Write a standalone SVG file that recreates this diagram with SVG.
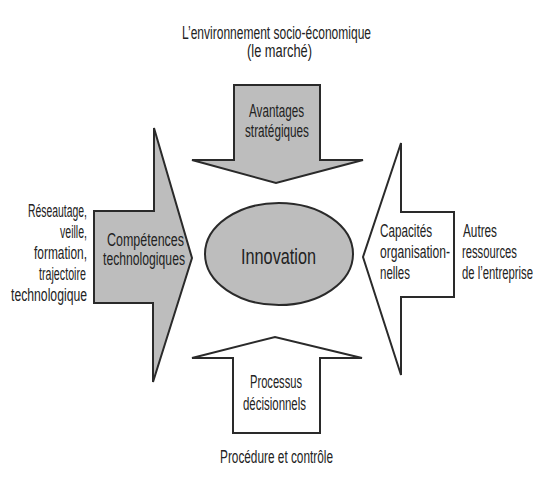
<svg xmlns="http://www.w3.org/2000/svg" width="536" height="486" viewBox="0 0 536 486">
<style>
.shape{stroke:#2a2a2a;stroke-width:2;stroke-linejoin:miter}
.gray{fill:#bdbdbd}
.white{fill:#ffffff}
text{font-family:"Liberation Sans Narrow","Liberation Sans",Arial,sans-serif;font-size:17.5px;fill:#222}
.big{font-size:22px}
</style>
<rect width="536" height="486" fill="#ffffff"/>
<g id="context-labels">
<text x="182" y="39" textLength="189" lengthAdjust="spacingAndGlyphs">L’environnement socio-économique</text>
<text x="247" y="57" textLength="65" lengthAdjust="spacingAndGlyphs">(le marché)</text>
<text x="28" y="217" textLength="59" lengthAdjust="spacingAndGlyphs">Réseautage,</text>
<text x="60" y="238" textLength="27" lengthAdjust="spacingAndGlyphs">veille,</text>
<text x="34" y="259" textLength="53" lengthAdjust="spacingAndGlyphs">formation,</text>
<text x="39" y="280" textLength="47" lengthAdjust="spacingAndGlyphs">trajectoire</text>
<text x="11" y="301" textLength="76" lengthAdjust="spacingAndGlyphs">technologique</text>
<text x="463" y="237" textLength="34" lengthAdjust="spacingAndGlyphs">Autres</text>
<text x="462" y="258" textLength="55" lengthAdjust="spacingAndGlyphs">ressources</text>
<text x="462" y="279" textLength="71" lengthAdjust="spacingAndGlyphs">de l’entreprise</text>
<text x="220" y="463" textLength="113" lengthAdjust="spacingAndGlyphs">Procédure et contrôle</text>
</g>
<g id="arrow-top">
<polygon class="shape gray" points="234,85 320,85 320,160 363,160 276,183 192,160 234,160"/>
<text x="249" y="117" textLength="55" lengthAdjust="spacingAndGlyphs">Avantages</text>
<text x="245" y="137" textLength="64" lengthAdjust="spacingAndGlyphs">stratégiques</text>
</g>
<g id="arrow-left">
<polygon class="shape gray" points="94,211 154,211 154,128 192,258 153,382 153,303 94,303"/>
<text x="107" y="246" textLength="77" lengthAdjust="spacingAndGlyphs">Compétences</text>
<text x="103" y="265" textLength="82" lengthAdjust="spacingAndGlyphs">technologiques</text>
</g>
<g id="arrow-right">
<polygon class="shape white" points="454,212 401,212 401,143 363,257 401,375 401,297 454,297"/>
<text x="380" y="237" textLength="52" lengthAdjust="spacingAndGlyphs">Capacités</text>
<text x="380" y="258" textLength="70" lengthAdjust="spacingAndGlyphs">organisation-</text>
<text x="380" y="279" textLength="30" lengthAdjust="spacingAndGlyphs">nelles</text>
</g>
<g id="arrow-bottom">
<polygon class="shape white" points="233,433 320,433 320,358 362,358 275,337 192,358 233,358"/>
<text x="250" y="388" textLength="52" lengthAdjust="spacingAndGlyphs">Processus</text>
<text x="243" y="410" textLength="63" lengthAdjust="spacingAndGlyphs">décisionnels</text>
</g>
<g id="innovation">
<ellipse class="shape gray" cx="279" cy="254" rx="74" ry="51"/>
<text class="big" x="241" y="264" textLength="75" lengthAdjust="spacingAndGlyphs">Innovation</text>
</g>
<g id="connectors"/>
</svg>
